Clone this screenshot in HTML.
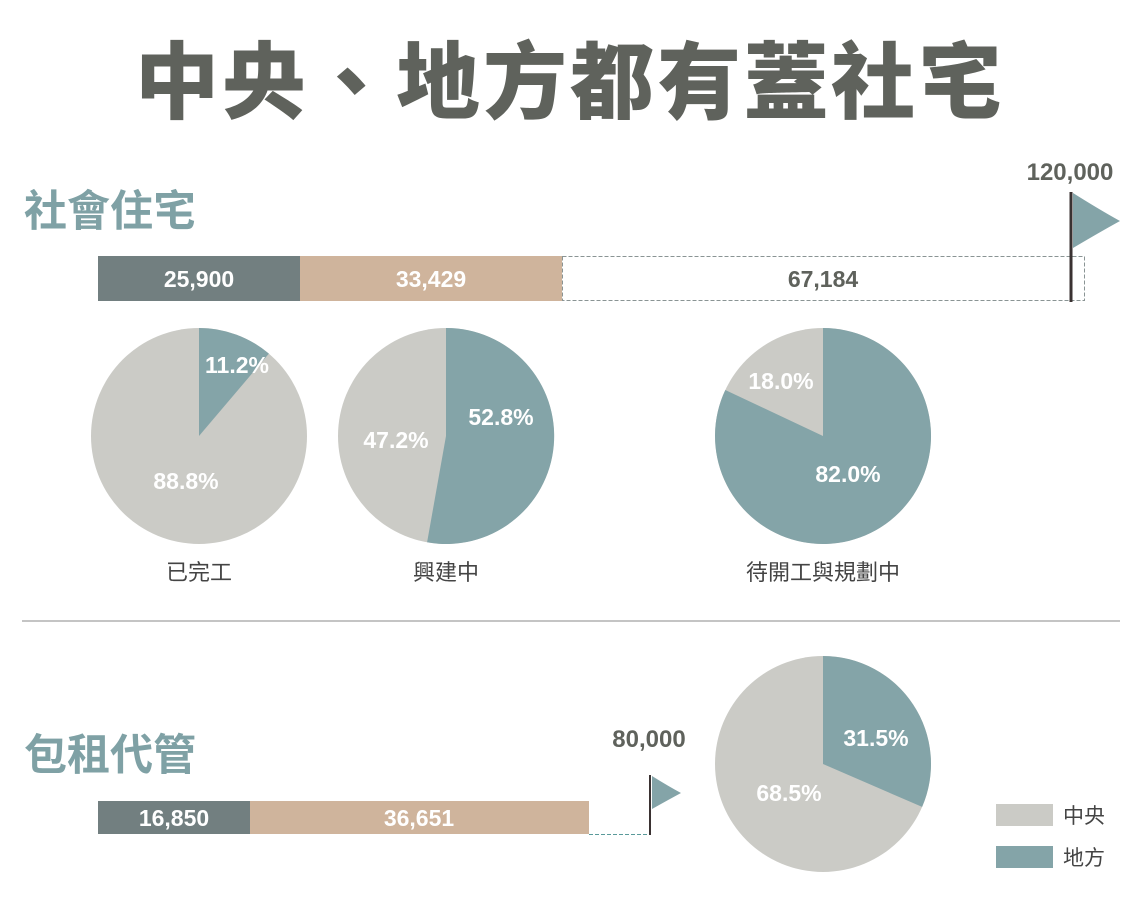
<!DOCTYPE html>
<html><head><meta charset="utf-8"><style>
body{margin:0;background:#fff}
svg text{font-family:"Liberation Sans","Noto Sans CJK TC",sans-serif}
</style></head><body>
<svg width="1138" height="910" viewBox="0 0 1138 910" xmlns="http://www.w3.org/2000/svg">
<rect width="1138" height="910" fill="#fff"/>
<text x="570" y="112" text-anchor="middle" font-size="84" font-weight="900" fill="#5f625c" letter-spacing="3">中央、地方都有蓋社宅</text>
<text x="24" y="226" font-size="43" font-weight="700" fill="#7fa1a5">社會住宅</text>
<text x="24" y="770" font-size="43" font-weight="700" fill="#7fa1a5">包租代管</text>
<text x="1070" y="180" text-anchor="middle" font-size="24" font-weight="700" fill="#5f625c">120,000</text>
<rect x="562.5" y="256.5" width="522" height="44" fill="#fff" stroke="#8a9494" stroke-dasharray="4,2"/>
<rect x="98" y="256" width="202" height="45" fill="#727f80"/>
<rect x="300" y="256" width="262" height="45" fill="#cfb49c"/>
<text x="199" y="287" text-anchor="middle" font-size="23" font-weight="700" fill="#fff">25,900</text>
<text x="431" y="287" text-anchor="middle" font-size="23" font-weight="700" fill="#fff">33,429</text>
<text x="823" y="287" text-anchor="middle" font-size="23" font-weight="700" fill="#5f625c">67,184</text>
<line x1="1071" y1="192" x2="1071" y2="302" stroke="#3a3232" stroke-width="3"/>
<path d="M1073,193 Q1100,210 1120,221 Q1100,232 1073,248 Z" fill="#84a4a8"/>
<circle cx="199" cy="436" r="108" fill="#cbcbc6"/>
<path d="M199,436 L199,328 A108,108 0 0 1 268.9,353.65 Z" fill="#84a4a8"/>
<circle cx="446" cy="436" r="108" fill="#cbcbc6"/>
<path d="M446,436 L446,328 A108,108 0 1 1 427.1,542.3 Z" fill="#84a4a8"/>
<circle cx="823" cy="436" r="108" fill="#cbcbc6"/>
<path d="M823,436 L823,328 A108,108 0 1 1 725.3,390 Z" fill="#84a4a8"/>
<circle cx="823" cy="764" r="108" fill="#cbcbc6"/>
<path d="M823,764 L823,656 A108,108 0 0 1 922.1,806.9 Z" fill="#84a4a8"/>
<g font-size="23" font-weight="700" fill="#fff" text-anchor="middle">
<text x="237" y="373">11.2%</text>
<text x="186" y="489">88.8%</text>
<text x="396" y="448">47.2%</text>
<text x="501" y="425">52.8%</text>
<text x="781" y="389">18.0%</text>
<text x="848" y="482">82.0%</text>
<text x="876" y="746">31.5%</text>
<text x="789" y="801">68.5%</text>
</g>
<g font-size="22" fill="#444" text-anchor="middle">
<text x="199" y="580">已完工</text>
<text x="446" y="580">興建中</text>
<text x="823" y="580">待開工與規劃中</text>
</g>
<line x1="22" y1="621" x2="1120" y2="621" stroke="#888" stroke-width="1"/>
<text x="649" y="747" text-anchor="middle" font-size="24" font-weight="700" fill="#5f625c">80,000</text>
<line x1="589" y1="834.5" x2="650" y2="834.5" stroke="#5a9a9a" stroke-dasharray="4,2"/>
<rect x="98" y="801" width="152" height="33" fill="#727f80"/>
<rect x="250" y="801" width="339" height="33" fill="#cfb49c"/>
<text x="174" y="826" text-anchor="middle" font-size="23" font-weight="700" fill="#fff">16,850</text>
<text x="419" y="826" text-anchor="middle" font-size="23" font-weight="700" fill="#fff">36,651</text>
<line x1="650" y1="775" x2="650" y2="835" stroke="#3a3232" stroke-width="2"/>
<path d="M652,776 Q668,786 681,793 Q668,800 652,809 Z" fill="#84a4a8"/>
<rect x="996" y="804" width="57" height="22" fill="#cbcbc6"/>
<rect x="996" y="846" width="57" height="22" fill="#84a4a8"/>
<text x="1063" y="823" font-size="21" fill="#444">中央</text>
<text x="1063" y="865" font-size="21" fill="#444">地方</text>
</svg>
</body></html>
